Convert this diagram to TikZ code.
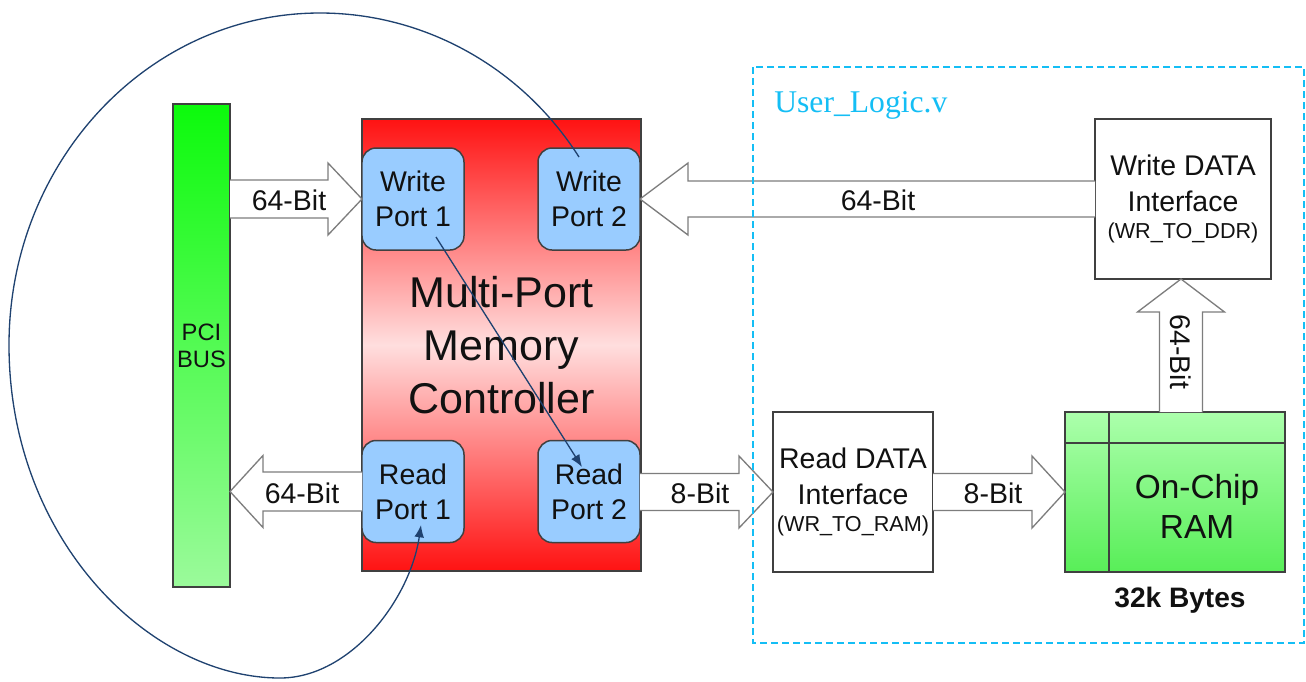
\documentclass[tikz,border=0pt]{standalone}
\usepackage{fontspec}
\setmainfont{Liberation Sans}
\newfontfamily\ulserif{Liberation Serif}
\usetikzlibrary{arrows.meta,calc}

\newdimen\px \px=0.02cm

\definecolor{portblue}{RGB}{153,204,255}
\definecolor{ctrlred}{RGB}{255,18,18}
\definecolor{ctrlpink}{RGB}{255,222,222}
\definecolor{busgreenA}{RGB}{12,250,12}
\definecolor{busgreenB}{RGB}{155,250,155}
\definecolor{ramgreenA}{RGB}{172,255,172}
\definecolor{ramgreenB}{RGB}{88,238,88}
\definecolor{edgegray}{RGB}{64,64,64}
\definecolor{arrowgray}{RGB}{125,125,125}
\definecolor{linkblue}{RGB}{31,66,112}
\definecolor{ulcyan}{RGB}{20,190,245}
\definecolor{ink}{RGB}{17,17,17}

% horizontal block arrow: tail x, tip x, centre y, half body, half head, head length (signed)
\newcommand{\harrow}[6]{%
  \path[blockarrow] (#1,{#3-#4}) -- ({#2-(#6)},{#3-#4}) -- ({#2-(#6)},{#3-#5})
    -- (#2,#3) -- ({#2-(#6)},{#3+#5}) -- ({#2-(#6)},{#3+#4}) -- (#1,{#3+#4});}

\begin{document}
\begin{tikzpicture}[x=0.02cm, y=-0.02cm,
  box/.style={draw=edgegray, line width=0.85pt, inner sep=0pt, outer sep=0pt, text=ink},
  port/.style={box, fill=portblue, rounded corners=8pt, minimum width=102\px,
    minimum height=102\px, align=center, font=\fontsize{16.2}{19.8}\selectfont},
  ifbox/.style={box, fill=white, align=center, font=\fontsize{16.2}{20.4}\selectfont},
  blockarrow/.style={draw=arrowgray, fill=white, line width=0.75pt, line join=miter},
  link/.style={draw=linkblue, line width=0.75pt, -{Latex[length=7pt,width=5.5pt]}},
  lbl/.style={font=\fontsize{16.2}{19}\selectfont, text=ink, inner sep=0pt}]

\fill[white] (0,0) rectangle (1306,681);
\useasboundingbox (0,0) rectangle (1306,681);

% PCI bus
\node[box, minimum width=57\px, minimum height=483\px,
  top color=busgreenA, bottom color=busgreenB, align=center,
  font=\fontsize{13.5}{15.3}\selectfont] (pci) at (201.5,345.5) {PCI\\BUS};

% memory controller
\node[box, minimum width=279\px, minimum height=452\px,
  top color=ctrlred, bottom color=ctrlred, middle color=ctrlpink,
  align=center, font=\fontsize{24.5}{30}\selectfont] (ctrl) at (501.5,345)
  {Multi-Port\\Memory\\Controller};

\node[port] (wp1) at (413,199) {Write\\Port 1};
\node[port] (wp2) at (589,199) {Write\\Port 2};
\node[port] (rp1) at (413,491.5) {Read\\Port 1};
\node[port] (rp2) at (589,491.5) {Read\\Port 2};

% user logic blocks
\node[ifbox, minimum width=176\px, minimum height=160\px] (wdi) at (1183,199)
  {Write DATA\\Interface\\[-4.5pt]{\fontsize{12.3}{14}\selectfont (WR\_TO\_DDR)}};
\node[ifbox, minimum width=160\px, minimum height=160\px] (rdi) at (853,492)
  {Read DATA\\Interface\\[-4.5pt]{\fontsize{12.3}{14}\selectfont (WR\_TO\_RAM)}};

\node[box, minimum width=220\px, minimum height=160\px,
  top color=ramgreenA, bottom color=ramgreenB] (ram) at (1175,492) {};
\draw[edgegray, line width=0.85pt] ($(ram.north west)+(44,0)$) -- ($(ram.south west)+(44,0)$);
\draw[edgegray, line width=0.85pt] ($(ram.north west)+(0,31)$) -- ($(ram.north east)+(0,31)$);
\node[text=ink, align=center, font=\fontsize{19}{22.7}\selectfont, inner sep=0pt]
  (ramtxt) at (1197,506) {On-Chip\\RAM};
\node[text=ink, font=\bfseries\fontsize{16}{19}\selectfont, inner sep=0pt]
  (ramsize) at (1180,600) {32k Bytes};

% block arrows
\harrow{230}{362}{199}{19}{36}{34}
\harrow{362}{230}{491.5}{19.5}{36}{-33}
\harrow{1095}{640}{199}{18}{36}{-48}
\harrow{640}{773}{492}{18.5}{36}{34}
\harrow{933}{1065}{492}{18.5}{36}{33}
\path[blockarrow] (1159.5,412) -- (1159.5,312) -- (1137.5,312) -- (1181,279)
  -- (1224.5,312) -- (1202.5,312) -- (1202.5,412);

\node[lbl] (l1) at (289,200) {64-Bit};
\node[lbl] (l2) at (302,493) {64-Bit};
\node[lbl] (l3) at (878,200) {64-Bit};
\node[lbl, rotate=-90] (l4) at (1181,352) {64-Bit};
\node[lbl] (l5) at (700,493) {8-Bit};
\node[lbl] (l6) at (993,493) {8-Bit};

% user logic boundary
\draw[ulcyan, line width=1.1pt, dash pattern=on 7\px off 4\px] (753,67) rectangle (1304,643);
\node[text=ulcyan, anchor=base west, inner sep=0pt, font=\ulserif\fontsize{18}{20}\selectfont]
  (ultitle) at (774,112) {User\_Logic.v};

% data path links
\coordinate (diagA) at (436,237);
\coordinate (diagB) at (582,467);
\draw[link] (diagA) -- (diagB);

\coordinate (loopA) at (579,157);
\coordinate (loopB) at (421,525);
\draw[link] (loopA) .. controls (521,66) and (423,13) .. (320,13)
  .. controls (148,13) and (9,162) .. (9,345)
  .. controls (9,540) and (150,678) .. (280,678)
  .. controls (350,678) and (410,600) .. (loopB);
\end{tikzpicture}
\end{document}
